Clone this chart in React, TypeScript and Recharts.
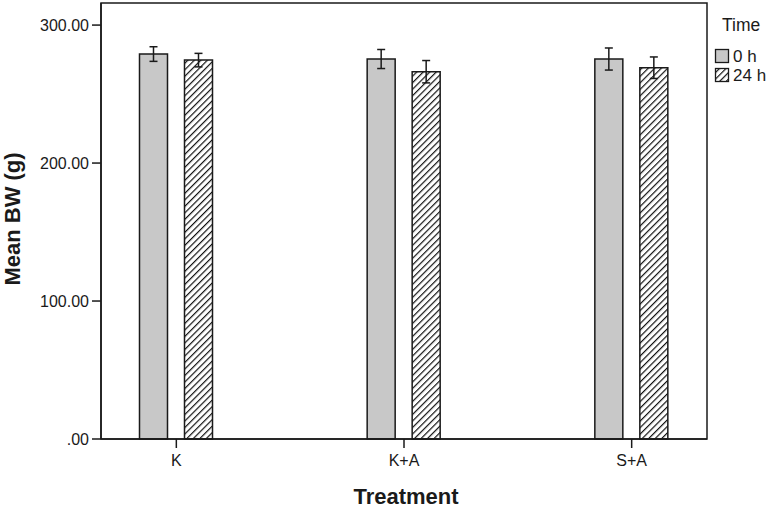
import React from 'react';
import { BarChart, Bar, XAxis, YAxis, ErrorBar } from 'recharts';

const categories = ['K', 'K+A', 'S+A'];
const mean0h = [279.0, 275.4, 275.4];
const err0h = [5.3, 6.9, 8.0];
const mean24h = [274.6, 266.2, 269.1];
const err24h = [4.9, 8.1, 7.8];
const yTicks = [0, 100, 200, 300];

const data = categories.map((c, i) => ({
  treatment: c,
  h0: mean0h[i],
  h0err: err0h[i],
  h24: mean24h[i],
  h24err: err24h[i],
}));

const FONT = '"Liberation Sans", Arial, Helvetica, sans-serif';
const INK = '#1a1a1a';
const GREY = '#c8c8c8';

const fmtY = (v: number) => (v === 0 ? '.00' : v.toFixed(2));

const YTitle = () => (
  <text
    x={20}
    y={219}
    transform="rotate(-90 20 219)"
    textAnchor="middle"
    fontFamily={FONT}
    fontWeight="bold"
    fontSize={22}
    fill={INK}
  >
    Mean BW (g)
  </text>
);

const XTitle = () => (
  <text
    x={406}
    y={504}
    textAnchor="middle"
    fontFamily={FONT}
    fontWeight="bold"
    fontSize={22}
    fill={INK}
  >
    Treatment
  </text>
);

const Hatch = ({ id }: { id: string }) => (
  <pattern id={id} patternUnits="userSpaceOnUse" width={4.6} height={4.6} patternTransform="rotate(45)">
    <rect width={4.6} height={4.6} fill="#fff" />
    <line x1={0} y1={0} x2={0} y2={4.6} stroke="#111" strokeWidth={2.4} />
  </pattern>
);

export default function App() {
  return (
    <div style={{ position: 'absolute', left: 0, top: 0, width: 770, height: 508, background: '#fff' }}>
      <BarChart
        width={770}
        height={508}
        data={data}
        margin={{ top: 3, right: 63, bottom: 29, left: 21 }}
        barSize={28}
        barGap={17}
      >
        <defs>
          <Hatch id="hatch" />
        </defs>
        <XAxis
          dataKey="treatment"
          padding={{ left: -38.5, right: -38.5 }}
          height={40}
          tickSize={9}
          tickMargin={7}
          axisLine={{ stroke: INK, strokeWidth: 1.5 }}
          tickLine={{ stroke: INK, strokeWidth: 1.5 }}
          tick={{ fill: INK, fontSize: 16, fontFamily: FONT }}
          label={{ content: () => <XTitle /> }}
        />
        <YAxis
          domain={[0, 316]}
          ticks={yTicks}
          tickFormatter={fmtY}
          width={80}
          tickSize={9}
          tickMargin={3}
          axisLine={{ stroke: INK, strokeWidth: 1.5 }}
          tickLine={{ stroke: INK, strokeWidth: 1.5 }}
          tick={{ fill: INK, fontSize: 16, fontFamily: FONT }}
          label={{ content: () => <YTitle /> }}
        />
        <Bar dataKey="h0" fill={GREY} stroke={INK} strokeWidth={1.5} isAnimationActive={false}>
          <ErrorBar dataKey="h0err" width={4} stroke={INK} strokeWidth={1.5} isAnimationActive={false} />
        </Bar>
        <Bar dataKey="h24" fill="url(#hatch)" stroke={INK} strokeWidth={1.5} isAnimationActive={false}>
          <ErrorBar dataKey="h24err" width={4} stroke={INK} strokeWidth={1.5} isAnimationActive={false} />
        </Bar>
      </BarChart>
      {/* plot frame + legend */}
      <svg
        width={770}
        height={508}
        style={{ position: 'absolute', left: 0, top: 0, pointerEvents: 'none' }}
        fontFamily={FONT}
      >
        <defs>
          <Hatch id="hatchLegend" />
        </defs>
        <rect x={101} y={3} width={606} height={436} fill="none" stroke={INK} strokeWidth={1.5} />
        <text x={722} y={31} fontSize={17.5} fill={INK}>
          Time
        </text>
        <rect x={715.5} y={49.5} width={13} height={13} fill={GREY} stroke={INK} strokeWidth={1.3} />
        <text x={733} y={62} fontSize={17} fill={INK}>
          0 h
        </text>
        <rect x={715.5} y={68.5} width={13} height={13} fill="url(#hatchLegend)" stroke={INK} strokeWidth={1.3} />
        <text x={733} y={81} fontSize={17} fill={INK}>
          24 h
        </text>
      </svg>
    </div>
  );
}
